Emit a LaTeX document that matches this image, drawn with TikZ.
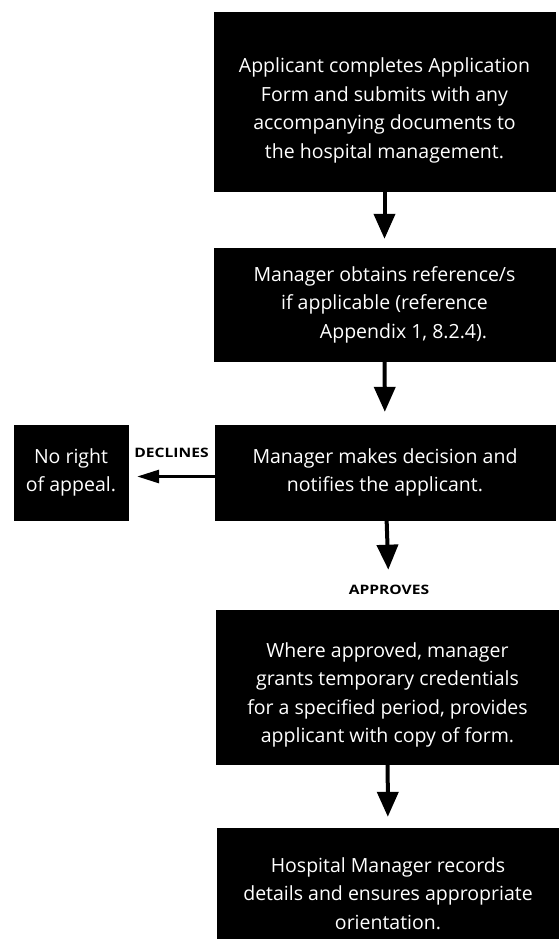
\documentclass[tikz,border=0pt]{standalone}
\usepackage{fontspec}
\setmainfont{Open Sans}
\newfontfamily\tagfont[FakeStretch=1.2]{Open Sans}
\usetikzlibrary{arrows.meta,positioning}

\begin{document}
\begin{tikzpicture}[x=1pt,y=-1pt,
  box/.style={draw=black,fill=black,text=white,align=center,inner sep=0pt,
    font=\fontsize{19.5}{28.5}\selectfont},
  flow/.style={line width=4pt,-{Triangle[length=25pt,width=21pt]},shorten >=9pt},
  tag/.style={font=\tagfont\fontsize{13}{14}\selectfont\bfseries}]
\useasboundingbox (0,0) rectangle (559,939);
\node[box,minimum width=341pt,minimum height=179pt] (apply) at (384.5,101.5)
  {\\[4pt]Applicant completes Application\\Form and submits with any\\accompanying documents to\\the hospital management.};
\node[box,minimum width=341pt,minimum height=113pt] (refs) at (384.5,304.5)
  {Manager obtains reference/s\\if applicable (reference\\\hspace*{38pt}Appendix 1, 8.2.4).};
\node[box,minimum width=340pt,minimum height=95pt] (decide) at (385,472.5)
  {Manager makes decision and\\notifies the applicant.};
\node[box,minimum width=114pt,minimum height=95pt] (noappeal) at (71,472.5)
  {No right\\of appeal.};
\node[tag] (approves) at (389,590) {APPROVES};
\node[box,minimum width=343pt,minimum height=154pt] (grant) at (387.5,687)
  {\\[2pt]Where approved, manager\\grants temporary credentials\\for a specified period, provides\\applicant with copy of form.};
\node[box,minimum width=342pt,minimum height=111pt] (record) at (388,883.5)
  {\\[6pt]Hospital Manager records\\details and ensures appropriate\\orientation.};
\draw[flow] (apply) -- (refs);
\draw[flow,shorten >=13pt] (refs) -- (decide);
\draw[flow,shorten >=12pt] (decide) -- (approves);
\draw[flow,shorten >=11pt] (grant) -- (record);
\draw[flow,line width=3pt,-{Triangle[length=22pt,width=13pt]}] ([yshift=-4pt]decide.west) -- ([yshift=-4pt]noappeal.east)
  node[tag,midway,above=14pt] {DECLINES};
\end{tikzpicture}
\end{document}
